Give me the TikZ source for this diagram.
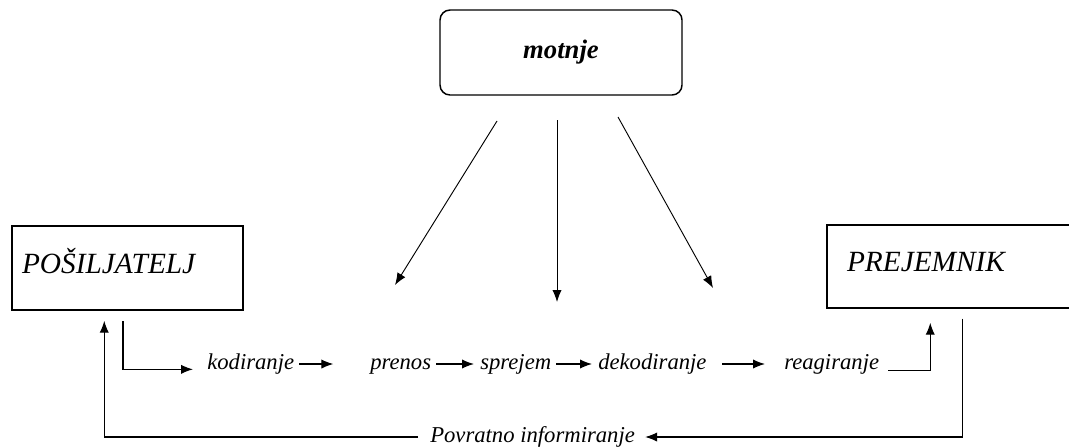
\documentclass[tikz,border=0pt]{standalone}
\usepackage{fontspec}
\setmainfont{Liberation Serif}
\usetikzlibrary{arrows.meta,positioning,calc}

\begin{document}
\begin{tikzpicture}[x=0.75pt,y=-0.75pt,>={Latex[length=9pt,width=7pt]},
 flow/.style={->,line width=0.9pt,shorten <=2pt,shorten >=3pt},
 noise/.style={->,line width=0.7pt},
 party/.style={draw,line width=1.1pt,font=\fontsize{22}{26}\selectfont\itshape,
  align=left,inner ysep=0pt,text height=20pt,text depth=12pt},
 stage/.style={font=\fontsize{17}{20}\selectfont\itshape,inner sep=1.5pt,
  anchor=west,text height=12pt,text depth=4pt}]
 \clip (0,0) rectangle (1069,447);
 % boxes
 \node[draw, rounded corners=7.5pt, line width=1.1pt, minimum width=181.5pt,
  minimum height=63.75pt, font=\fontsize{20}{24}\selectfont\bfseries\itshape] (mot) at (561,52.5) {motnje};
 \node[party, inner xsep=7.5pt, text width=158.25pt, minimum height=63pt] (snd) at (127.5,268) {POŠILJATELJ};
 \node[party, inner xsep=15pt, text width=174.75pt, minimum height=62.25pt] (rcv) at (963.5,266.5) {PREJEMNIK};
 % stages of the message
 \node[stage] (kod) at (205,364) {kodiranje};
 \node[stage] (pre) at (368,364) {prenos};
 \node[stage] (spr) at (478,364) {sprejem};
 \node[stage] (dek) at (596,364) {dekodiranje};
 \node[stage] (rea) at (782,364) {reagiranje};
 \node[stage] (fb) at (428,437) {Povratno informiranje};
 % noise
 \coordinate (m1) at (497,121); \coordinate (d1) at (395,285);
 \coordinate (m2) at (557,120); \coordinate (d2) at (557,302);
 \coordinate (m3) at (618,117); \coordinate (d3) at (713,288);
 \draw[noise] (m1) -- (d1);
 \draw[noise] (m2) -- (d2);
 \draw[noise] (m3) -- (d3);
 % message path
 \draw[flow, shorten >=9pt] ([xshift=-3.4pt]snd.south) ++(0,8) |- ([yshift=-4pt]kod.west);
 \draw[flow, shorten >=26pt] (kod) -- (pre);
 \draw[flow] (pre) -- (spr);
 \draw[flow] (spr) -- (dek);
 \draw[flow, shorten <=10pt, shorten >=12.75pt] (dek) -- (rea);
 \draw[flow, shorten <=5pt, shorten >=10.5pt] ([yshift=-5pt]rea.east) -| ([xshift=78pt]rcv.south west);
 % feedback
 \draw[flow, shorten <=0pt, shorten >=-2pt] ([xshift=102pt]rcv.south west) ++(0,10) |- ([xshift=8pt]fb.east);
 \draw[flow, shorten <=7.5pt, shorten >=7.5pt] (fb.west) -| ([xshift=69.75pt]snd.south west);
\end{tikzpicture}
\end{document}
